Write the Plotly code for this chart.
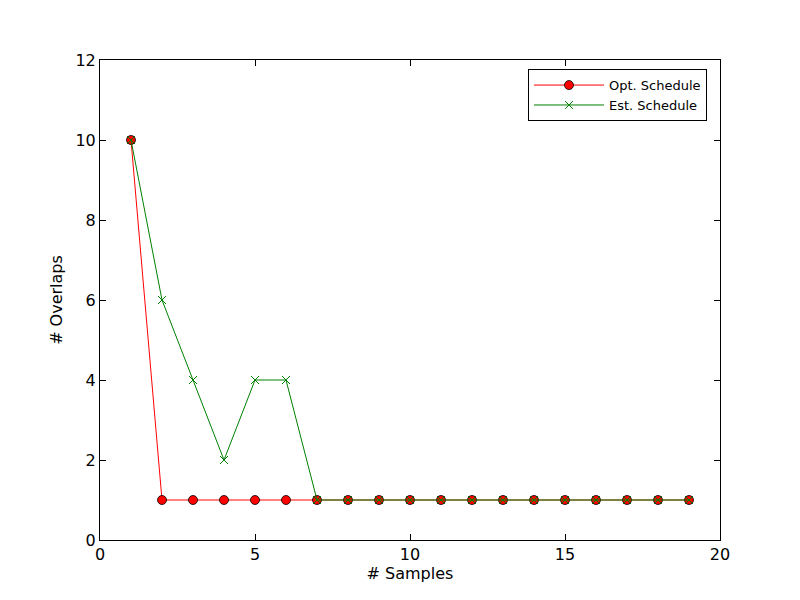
import plotly.graph_objects as go

samples = list(range(1, 20))
opt_schedule = [10, 1, 1, 1, 1, 1, 1, 1, 1, 1, 1, 1, 1, 1, 1, 1, 1, 1, 1]
est_schedule = [10, 6, 4, 2, 4, 4, 1, 1, 1, 1, 1, 1, 1, 1, 1, 1, 1, 1, 1]
x_ticks = [0, 5, 10, 15, 20]
y_ticks = [0, 2, 4, 6, 8, 10, 12]

fig = go.Figure()
fig.add_trace(go.Scatter(
    x=samples, y=opt_schedule, mode="lines+markers", name="Opt. Schedule",
    line=dict(color="red", width=1),
    marker=dict(symbol="circle", size=9, color="red", line=dict(color="black", width=0.8)),
))
fig.add_trace(go.Scatter(
    x=samples, y=est_schedule, mode="lines+markers", name="Est. Schedule",
    line=dict(color="green", width=1),
    marker=dict(symbol="x-thin", size=8, color="green", line=dict(color="green", width=1)),
))

axis_common = dict(
    showgrid=False, zeroline=False, showline=True, linecolor="black", linewidth=1,
    mirror="ticks", ticks="inside", ticklen=6, tickcolor="black",
    tickfont=dict(family="DejaVu Sans", size=16, color="black"),
)
fig.update_xaxes(range=[0, 20], tickvals=x_ticks,
                 title=dict(text="# Samples", font=dict(family="DejaVu Sans", size=16, color="black"), standoff=4),
                 **axis_common)
fig.update_yaxes(range=[0, 12], tickvals=y_ticks,
                 title=dict(text="# Overlaps", font=dict(family="DejaVu Sans", size=16, color="black"), standoff=8),
                 **axis_common)

fig.update_layout(
    width=800, height=600,
    margin=dict(l=92, r=88, t=52, b=68),
    paper_bgcolor="white", plot_bgcolor="white",
    legend=dict(x=0.979, y=0.981, xanchor="right", yanchor="top",
                bordercolor="black", borderwidth=1, bgcolor="white",
                font=dict(family="DejaVu Sans", size=13, color="black"),
                itemwidth=70, tracegroupgap=0),
    showlegend=True,
)

fig.write_html("out.html")
